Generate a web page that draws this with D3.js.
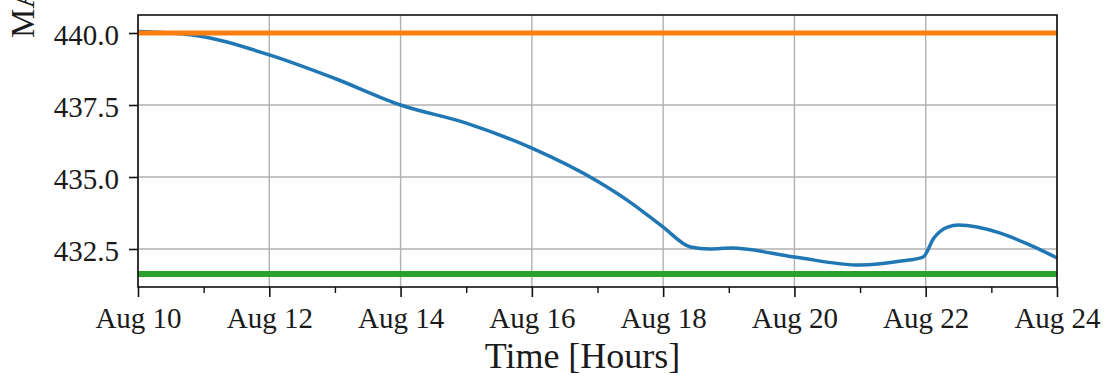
<!DOCTYPE html>
<html>
<head>
<meta charset="utf-8">
<script src="https://cdn.jsdelivr.net/npm/d3@7"></script>
<style>
  html, body { margin: 0; padding: 0; background: #fff; }
  svg { display: block; }
  text { font-family: "Liberation Serif", "DejaVu Serif", serif; fill: #1a1a1a; }
</style>
</head>
<body>
<svg id="chart" width="1109" height="377"></svg>
<script>
// Measured level over the observation window
const times = [
  "2023-08-10T00:00", "2023-08-10T20:00", "2023-08-12T00:00", "2023-08-13T00:00",
  "2023-08-14T00:00", "2023-08-15T00:00", "2023-08-16T00:00", "2023-08-17T00:00",
  "2023-08-17T12:00", "2023-08-18T00:00", "2023-08-18T10:00", "2023-08-18T17:00",
  "2023-08-19T01:00", "2023-08-20T00:00", "2023-08-21T00:00", "2023-08-21T15:00",
  "2023-08-21T23:00", "2023-08-22T03:00", "2023-08-22T08:00", "2023-08-22T12:00",
  "2023-08-23T03:00", "2023-08-23T14:00", "2023-08-24T00:00"
];
const levels = [
  440.05, 439.93, 439.24, 438.42,
  437.50, 436.87, 436.00, 434.85,
  434.12, 433.26, 432.57, 432.50,
  432.53, 432.22, 431.94, 432.08,
  432.22, 432.88, 433.26, 433.33,
  433.06, 432.64, 432.19
];
// Upper and lower reference limits
const upperLimit = 440.0;
const lowerLimit = 431.63;

const yTicks = [432.5, 435.0, 437.5, 440.0];
const xStart = "2023-08-10T00:00";
const xEnd = "2023-08-24T00:00";
const yLabel = "MAX Level [m]";
const xLabel = "Time [Hours]";

const parse = d3.utcParse("%Y-%m-%dT%H:%M");
const series = times.map((t, i) => ({ t: parse(t), v: levels[i] }));
const t0 = parse(xStart), t1 = parse(xEnd);

const svg = d3.select("#chart");
const m = { left: 138, right: 1057, top: 15, bottom: 287 };

const x = d3.scaleUtc().domain([t0, t1]).range([m.left, m.right]);
const y = d3.scaleLinear().domain([431.18, 440.625]).range([m.bottom, m.top]);

// every day gets a tick; even offsets are labelled major ticks
const allDays = d3.utcDay.range(t0, d3.utcHour.offset(t1, 1));
const majorTicks = allDays.filter(d => d3.utcDay.count(t0, d) % 2 === 0);
const minorTicks = allDays.filter(d => d3.utcDay.count(t0, d) % 2 === 1);

// grid
const grid = svg.append("g").attr("stroke", "#b0b0b0").attr("stroke-width", 1.4);
grid.selectAll(".gx").data(majorTicks).join("line")
  .attr("x1", d => x(d)).attr("x2", d => x(d))
  .attr("y1", m.top).attr("y2", m.bottom);
grid.selectAll(".gy").data(yTicks).join("line")
  .attr("x1", m.left).attr("x2", m.right)
  .attr("y1", d => y(d)).attr("y2", d => y(d));

// lower limit
svg.append("line")
  .attr("x1", m.left).attr("x2", m.right)
  .attr("y1", y(lowerLimit)).attr("y2", y(lowerLimit))
  .attr("stroke", "#2ca02c").attr("stroke-width", 6);

// level curve
const line = d3.line().x(d => x(d.t)).y(d => y(d.v)).curve(d3.curveMonotoneX);
svg.append("path").datum(series)
  .attr("d", line)
  .attr("fill", "none")
  .attr("stroke", "#1f77b4")
  .attr("stroke-width", 3.5)
  .attr("stroke-linejoin", "round");

// upper limit
svg.append("line")
  .attr("x1", m.left).attr("x2", m.right)
  .attr("y1", y(upperLimit)).attr("y2", y(upperLimit))
  .attr("stroke", "#ff7f0e").attr("stroke-width", 5);

// frame
svg.append("rect")
  .attr("x", m.left).attr("y", m.top)
  .attr("width", m.right - m.left).attr("height", m.bottom - m.top)
  .attr("fill", "none").attr("stroke", "#111").attr("stroke-width", 1.6);

const tickFont = "Liberation Serif, DejaVu Serif, serif";

// x axis
const xAxis = d3.axisBottom(x).tickValues(majorTicks)
  .tickFormat(d3.utcFormat("%b %d")).tickSize(10);
const gx = svg.append("g").attr("transform", `translate(0,${m.bottom})`).call(xAxis);
gx.select(".domain").remove();
gx.selectAll(".tick line").attr("stroke", "#111").attr("stroke-width", 1.6);
gx.selectAll(".tick text").attr("font-size", 29).attr("fill", "#1a1a1a")
  .attr("font-family", tickFont).attr("y", 41).attr("dy", 0);

const gxm = svg.append("g").attr("transform", `translate(0,${m.bottom})`)
  .call(d3.axisBottom(x).tickValues(minorTicks).tickSize(6).tickFormat(""));
gxm.select(".domain").remove();
gxm.selectAll(".tick line").attr("stroke", "#111").attr("stroke-width", 1.4);

// y axis
const yAxis = d3.axisLeft(y).tickValues(yTicks).tickFormat(d3.format(".1f"))
  .tickSize(9).tickPadding(10);
const gy = svg.append("g").attr("transform", `translate(${m.left},0)`).call(yAxis);
gy.select(".domain").remove();
gy.selectAll(".tick line").attr("stroke", "#111").attr("stroke-width", 1.6);
gy.selectAll(".tick text").attr("font-size", 29).attr("fill", "#1a1a1a")
  .attr("font-family", tickFont).attr("dy", "0.38em");

// axis titles
svg.append("text")
  .attr("x", (m.left + m.right) / 2 - 15).attr("y", 368)
  .attr("text-anchor", "middle").attr("font-size", 36)
  .text(xLabel);

svg.append("text")
  .attr("transform", "translate(34,38) rotate(-90)")
  .attr("text-anchor", "start").attr("font-size", 33)
  .text(yLabel);
</script>
</body>
</html>
